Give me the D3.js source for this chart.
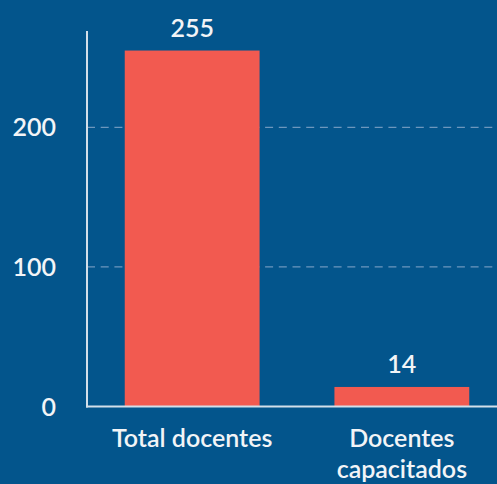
<!DOCTYPE html>
<html><head><meta charset="utf-8">
<script src="https://cdn.jsdelivr.net/npm/d3@7"></script>
<style>
html,body{margin:0;padding:0;background:#03558c;}
svg{display:block;}
text{font-family:Lato,"Open Sans",sans-serif;}
</style></head>
<body>
<svg id="chart" width="497" height="484"></svg>
<script>
const categories = [["Total docentes"], ["Docentes", "capacitados"]];
const values = [255, 14];
const yTicks = [0, 100, 200];

const W = 497, H = 484;
const svg = d3.select("#chart");
svg.append("rect").attr("width", W).attr("height", H).attr("fill", "#03558c");

const x0 = 87, yBase = 406.5, yTop = 31;
const FS = 25, FW = 600;
const x = d3.scaleBand().domain(d3.range(values.length)).range([x0, 507]).paddingInner(0.357).paddingOuter(0.18);
const y = d3.scaleLinear().domain([0, 269]).range([yBase, yTop]);

// grid
svg.append("g").selectAll("line").data(yTicks.filter(t => t > 0)).join("line")
  .attr("x1", x0).attr("x2", W).attr("y1", d => y(d)).attr("y2", d => y(d))
  .attr("stroke", "#6d97bd").attr("stroke-width", 1.3).attr("stroke-dasharray", "8,5.7");

// y tick labels
svg.append("g").selectAll("text").data(yTicks).join("text")
  .attr("x", 56).attr("y", d => y(d)).attr("dy", "0.36em")
  .attr("text-anchor", "end").attr("fill", "#f2f4f7")
  .attr("font-size", FS).attr("font-weight", FW).text(d => d);

// bars
svg.append("g").selectAll("rect").data(values).join("rect")
  .attr("x", (d, i) => x(i)).attr("width", x.bandwidth())
  .attr("y", d => y(d)).attr("height", d => yBase - y(d))
  .attr("fill", "#f25a50");

// value labels
svg.append("g").selectAll("text").data(values).join("text")
  .attr("x", (d, i) => x(i) + x.bandwidth() / 2).attr("y", d => y(d) - 14)
  .attr("text-anchor", "middle").attr("fill", "#f2f4f7")
  .attr("font-size", FS).attr("font-weight", FW).text(d => d);

// axes lines
svg.append("line").attr("x1", x0).attr("x2", x0).attr("y1", yTop).attr("y2", yBase + 1)
  .attr("stroke", "#d3dfea").attr("stroke-width", 2);
svg.append("line").attr("x1", x0 - 1).attr("x2", W).attr("y1", yBase).attr("y2", yBase)
  .attr("stroke", "#d3dfea").attr("stroke-width", 2);

// category labels
const cl = svg.append("g").selectAll("text").data(categories).join("text")
  .attr("x", (d, i) => x(i) + x.bandwidth() / 2).attr("y", 447)
  .attr("text-anchor", "middle").attr("fill", "#f2f4f7")
  .attr("font-size", FS).attr("font-weight", FW);
cl.selectAll("tspan").data(d => d).join("tspan")
  .attr("x", function() { return d3.select(this.parentNode).attr("x"); })
  .attr("dy", (d, i) => i === 0 ? 0 : 31).text(d => d);
</script>
</body></html>
